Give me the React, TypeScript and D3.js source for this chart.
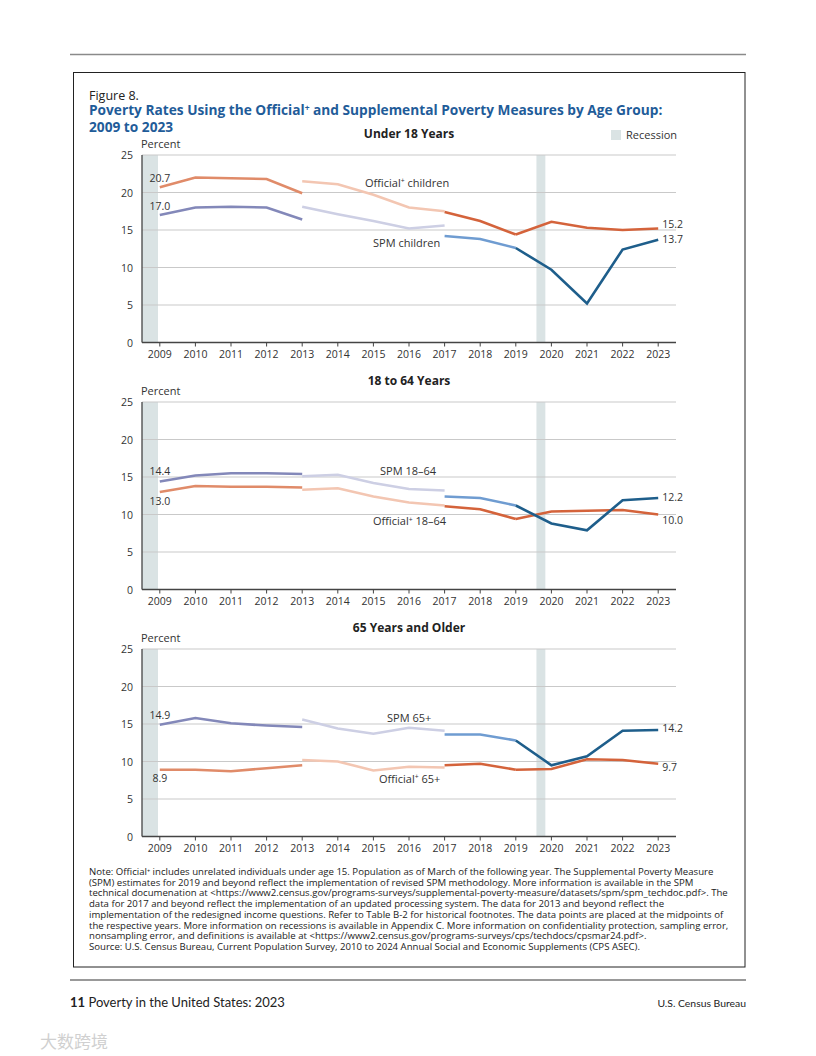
import React from "react";
import * as d3 from "d3";

// ---------- DATA ----------
// Each series is drawn as four segments (breaks in 2013 and 2017, methodology change in 2019)
const segmentYears: number[][] = [
  [2009, 2010, 2011, 2012, 2013],
  [2013, 2014, 2015, 2016, 2017],
  [2017, 2018, 2019],
  [2019, 2020, 2021, 2022, 2023],
];

const officialChildren: number[][] = [
  [20.7, 22.0, 21.9, 21.8, 19.9],
  [21.5, 21.1, 19.7, 18.0, 17.5],
  [17.4, 16.2, 14.4],
  [14.4, 16.1, 15.3, 15.0, 15.2],
];
const spmChildren: number[][] = [
  [17.0, 18.0, 18.1, 18.0, 16.4],
  [18.1, 17.1, 16.2, 15.2, 15.6],
  [14.2, 13.8, 12.6],
  [12.6, 9.7, 5.2, 12.4, 13.7],
];

const official18to64: number[][] = [
  [13.0, 13.8, 13.7, 13.7, 13.6],
  [13.3, 13.5, 12.4, 11.6, 11.2],
  [11.1, 10.7, 9.4],
  [9.4, 10.4, 10.5, 10.6, 10.0],
];
const spm18to64: number[][] = [
  [14.4, 15.2, 15.5, 15.5, 15.4],
  [15.1, 15.3, 14.2, 13.4, 13.2],
  [12.4, 12.2, 11.2],
  [11.2, 8.8, 7.9, 11.9, 12.2],
];

const official65plus: number[][] = [
  [8.9, 8.9, 8.7, 9.1, 9.5],
  [10.2, 10.0, 8.8, 9.3, 9.2],
  [9.5, 9.7, 8.9],
  [8.9, 9.0, 10.3, 10.2, 9.7],
];
const spm65plus: number[][] = [
  [14.9, 15.8, 15.1, 14.8, 14.6],
  [15.6, 14.4, 13.7, 14.5, 14.1],
  [13.6, 13.6, 12.8],
  [12.8, 9.5, 10.7, 14.1, 14.2],
];

const panelTitles = ["Under 18 Years", "18 to 64 Years", "65 Years and Older"];
const officialNames = ["children", "18\u201364", "65+"];
const spmNames = ["children", "18\u201364", "65+"];
const yTicks = [0, 5, 10, 15, 20, 25];
const xYears = d3.range(2009, 2024);
// recession periods in calendar years; data points sit at mid-year
const recessions: [number, number][] = [
  [2007.92, 2009.45],
  [2020.08, 2020.33],
];

const noteLines = [
  "Note: Official\u207A includes unrelated individuals under age 15. Population as of March of the following year. The Supplemental Poverty Measure",
  "(SPM) estimates for 2019 and beyond reflect the implementation of revised SPM methodology. More information is available in the SPM",
  "technical documenation at <https://www2.census.gov/programs-surveys/supplemental-poverty-measure/datasets/spm/spm_techdoc.pdf>. The",
  "data for 2017 and beyond reflect the implementation of an updated processing system. The data for 2013 and beyond reflect the",
  "implementation of the redesigned income questions. Refer to Table B-2 for historical footnotes. The data points are placed at the midpoints of",
  "the respective years. More information on recessions is available in Appendix C. More information on confidentiality protection, sampling error,",
  "nonsampling error, and definitions is available at <https://www2.census.gov/programs-surveys/cps/techdocs/cpsmar24.pdf>.",
  "Source: U.S. Census Bureau, Current Population Survey, 2010 to 2024 Annual Social and Economic Supplements (CPS ASEC).",
];

// ---------- STYLE / LAYOUT ----------
const FONT = "'Open Sans', 'Noto Sans', sans-serif";
const FOOT_FONT = "Lato, sans-serif";
const TEXT = "#333";
const BLUE_TITLE = "#1f5c99";
const BAND = "#dae3e4";
const GRID = "#c9c9c9";
const officialColors = ["#e08b69", "#f3c6b2", "#d4633b", "#d4633b"];
const spmColors = ["#8388b9", "#cdcfe4", "#6f9cd1", "#1e5e8b"];

const panelTops = [155, 402, 649];
const plotH = 187.5;
const xLeft = 142;
const xRight = 676;

const x = d3.scaleLinear().domain([2008.5, 2023.5]).range([xLeft, xRight]);

// series-name label placement per panel (pixel offsets from panel top)
const nameLabelLayout = [
  { ox: 365, oy: 31.5, sx: 373, sy: 91.5 },
  { ox: 373, oy: 123, sx: 380, sy: 73 },
  { ox: 379, oy: 133.5, sx: 387, sy: 72.5 },
];
// start labels: above (-) or below (+)
const startLabelDy = [
  { o: -5.5, s: -5.5 },
  { o: 13, s: -6.5 },
  { o: 12.5, s: -5.5 },
];
const endLabelDy = [
  { o: -0.8, s: 3.6 },
  { o: 9, s: 2.7 },
  { o: 7.3, s: 2.4 },
];

const panelData = [
  { official: officialChildren, spm: spmChildren },
  { official: official18to64, spm: spm18to64 },
  { official: official65plus, spm: spm65plus },
];

function Sup({ children }: { children: string }) {
  return (
    <tspan fontSize="0.62em" dy="-0.45em">
      {children}
    </tspan>
  );
}

function Panel({ idx }: { idx: number }) {
  const top = panelTops[idx];
  const y = d3.scaleLinear().domain([0, 25]).range([top + plotH, top]);
  const line = d3
    .line<[number, number]>()
    .x((d) => x(d[0]))
    .y((d) => y(d[1]));
  const { official, spm } = panelData[idx];
  const nl = nameLabelLayout[idx];
  const fmt = d3.format(".1f");
  const oFirst = official[0][0];
  const sFirst = spm[0][0];
  const oLast = official[3][official[3].length - 1];
  const sLast = spm[3][spm[3].length - 1];

  return (
    <g>
      <text x={409} y={top - 17} textAnchor="middle" fontWeight={700} fontSize={12} fill="#222">
        {panelTitles[idx]}
      </text>
      <text x={xLeft - 1} y={top - 7} fontSize={11} fill={TEXT}>
        Percent
      </text>
      {recessions.map(([s, e], i) => {
        const x0 = Math.max(x(s - 0.5), xLeft);
        const x1 = x(e - 0.5);
        return <rect key={i} x={x0} y={top} width={x1 - x0} height={plotH} fill={BAND} />;
      })}
      {yTicks.map((t) => (
        <g key={t}>
          {t > 0 && <line x1={xLeft} x2={xRight} y1={y(t)} y2={y(t)} stroke={GRID} strokeWidth={1} />}
          <text x={133} y={y(t) + 4} textAnchor="end" fontSize={10.5} fill={TEXT}>
            {t}
          </text>
        </g>
      ))}
      <line x1={xLeft} x2={xLeft} y1={top} y2={top + plotH} stroke="#444" strokeWidth={1.3} />
      <line x1={xLeft} x2={xRight} y1={top + plotH} y2={top + plotH} stroke="#444" strokeWidth={1.3} />
      {xYears.map((yr) => (
        <g key={yr}>
          <line x1={x(yr)} x2={x(yr)} y1={top + plotH} y2={top + plotH + 4} stroke="#444" strokeWidth={1} />
          <text x={x(yr)} y={top + plotH + 15} textAnchor="middle" fontSize={10.5} fill={TEXT}>
            {yr}
          </text>
        </g>
      ))}
      {segmentYears.map((yrs, si) => (
        <path
          key={"o" + si}
          d={line(yrs.map((yr, k) => [yr, official[si][k]]))!}
          fill="none"
          stroke={officialColors[si]}
          strokeWidth={2.6}
        />
      ))}
      {segmentYears.map((yrs, si) => (
        <path
          key={"s" + si}
          d={line(yrs.map((yr, k) => [yr, spm[si][k]]))!}
          fill="none"
          stroke={spmColors[si]}
          strokeWidth={2.6}
        />
      ))}
      {/* start values */}
      <text x={x(2009)} y={y(oFirst) + startLabelDy[idx].o} textAnchor="middle" fontSize={10.5} fill={TEXT}>
        {fmt(oFirst)}
      </text>
      <text x={x(2009)} y={y(sFirst) + startLabelDy[idx].s} textAnchor="middle" fontSize={10.5} fill={TEXT}>
        {fmt(sFirst)}
      </text>
      {/* end values */}
      <text x={x(2023) + 4} y={y(oLast) + endLabelDy[idx].o} fontSize={10.5} fill={TEXT}>
        {fmt(oLast)}
      </text>
      <text x={x(2023) + 4} y={y(sLast) + endLabelDy[idx].s} fontSize={10.5} fill={TEXT}>
        {fmt(sLast)}
      </text>
      {/* series names */}
      <text x={nl.ox} y={top + nl.oy} fontSize={11} fill={TEXT}>
        Official<Sup>+</Sup>
        <tspan dy="0.28em"> {officialNames[idx]}</tspan>
      </text>
      <text x={nl.sx} y={top + nl.sy} fontSize={11} fill={TEXT}>
        SPM {spmNames[idx]}
      </text>
    </g>
  );
}

export default function App() {
  return (
    <svg
      width={816}
      height={1056}
      viewBox="0 0 816 1056"
      style={{ position: "absolute", left: 0, top: 0, background: "#fff" }}
      fontFamily={FONT}
    >
      <rect x={0} y={0} width={816} height={1056} fill="#fff" />
      <line x1={70} x2={746} y1={54.5} y2={54.5} stroke="#8a8a8a" strokeWidth={1.5} />
      <rect x={73.5} y={72.5} width={671.5} height={894.5} fill="none" stroke="#222" strokeWidth={1} />

      <text x={89} y={99.5} fontSize={12.5} fill="#222">
        Figure 8.
      </text>
      <text x={89} y={115} fontSize={13.7} fontWeight={700} fill={BLUE_TITLE}>
        Poverty Rates Using the Official<Sup>+</Sup>
        <tspan dy="0.28em"> and Supplemental Poverty Measures by Age Group:</tspan>
      </text>
      <text x={89} y={131.5} fontSize={13.7} fontWeight={700} fill={BLUE_TITLE}>
        2009 to 2023
      </text>

      <rect x={611} y={130} width={10} height={10} fill={BAND} />
      <text x={626} y={139} fontSize={11} fill={TEXT}>
        Recession
      </text>

      {[0, 1, 2].map((i) => (
        <Panel key={i} idx={i} />
      ))}

      {noteLines.map((l, i) => (
        <text key={i} x={89} y={875 + i * 10.7} fontSize={9.6} fill="#222">
          {l}
        </text>
      ))}

      <line x1={70} x2={746} y1={980} y2={980} stroke="#999" strokeWidth={2} />
      <text x={70} y={1007} fontSize={13} fill="#222" fontFamily={FOOT_FONT}>
        <tspan fontWeight={700}>11</tspan> Poverty in the United States: 2023
      </text>
      <text x={746} y={1007} textAnchor="end" fontSize={10.4} fill="#222" fontFamily={FOOT_FONT}>
        U.S. Census Bureau
      </text>
      <text x={40} y={1048} fontSize={17} fill="#d0d0d0" fontFamily="'Noto Sans CJK SC', sans-serif">
        大数跨境
      </text>
    </svg>
  );
}
